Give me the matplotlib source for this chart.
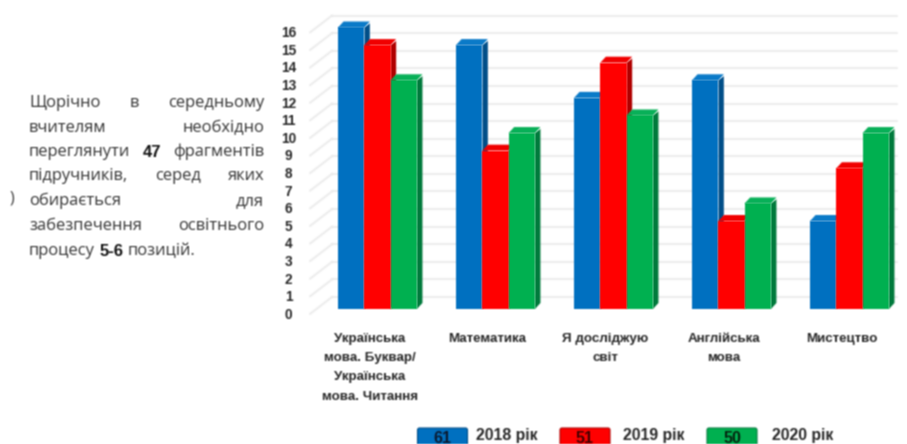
import numpy as np
import matplotlib
matplotlib.use("Agg")
import matplotlib.pyplot as plt
from matplotlib.patches import Polygon, FancyBboxPatch

categories = ["Українська\nмова. Буквар/\nУкраїнська\nмова. Читання", "Математика",
              "Я досліджую\nсвіт", "Англійська\nмова", "Мистецтво"]
years = ["2018 рік", "2019 рік", "2020 рік"]
totals = [61, 51, 50]
v2018 = [16, 15, 12, 13, 5]
v2019 = [15, 9, 14, 5, 8]
v2020 = [13, 10, 11, 6, 10]
series = [v2018, v2019, v2020]
yticks = list(range(0, 17))

front = ["#0070C0", "#FF0000", "#00B050"]
side = ["#004E88", "#B00000", "#007A3C"]
topc = ["#0A7AC8", "#F00000", "#08B058"]
TXT = "#262626"
REG = "Open Sans"
BOLD = "Liberation Sans"

W, H = 907, 444
fig = plt.figure(figsize=(W / 100, H / 100), dpi=100, facecolor="white")


def blur(img, dpi):
    pad = 3
    a = np.pad(img, ((pad, pad), (pad, pad), (0, 0)), mode="constant").astype(float)
    al = a[..., 3:4].copy()
    a[..., :3] *= al
    k = np.array([1, 2, 1], float) / 4
    for axis in (0, 1):
        a = np.apply_along_axis(lambda m: np.convolve(m, k, mode="same"), axis, a)
    al = a[..., 3:4]
    a[..., :3] = np.where(al > 1e-4, a[..., :3] / np.maximum(al, 1e-4), 0)
    return np.clip(a, 0, 1), -pad, -pad


# overlay in pixel coordinates for the surrounding page layout
ov = fig.add_axes([0, 0, 1, 1], zorder=5)
ov.set_xlim(0, W)
ov.set_ylim(H, 0)
ov.axis("off")
ov.patch.set_alpha(0)

# main plot: value 0 at y=309 px, 16 at y=27.5 px; group 0 centre at x=377.5 px, step 118 px
YB, YT = 309.0, 27.5
X0, STEP = 377.5, 118.0
ax = fig.add_axes([0, 0, 1, 1], zorder=2)
ax.set_xlim((0 - X0) / STEP, (W - X0) / STEP)
pu = (YB - YT) / 16
ax.set_ylim(-(H - YB) / pu, YB / pu)
ax.axis("off")
ax.patch.set_alpha(0)

dx = 5.5 / STEP
dy = 6.0 / pu
bw = 26.3 / STEP

# gridlines: back wall + left wall
wall_dx = 22 / STEP
left = (332 - X0) / STEP
right = (897 - X0) / STEP
for t in yticks:
    yback = t + 0.68
    yfront = t - 0.28
    for xs, ys in (([left, right], [yback, yback]), ([left, left - wall_dx], [yback, yfront])):
        ax.plot(xs, ys, color="#EDEDED", lw=1.5, zorder=1, solid_capstyle="round", agg_filter=blur)
    ov.text(288.5, YB - (t - 0.28) * pu + 0.8, str(t), ha="center", va="center", fontsize=9.8,
            fontweight="bold", color=TXT, family=BOLD, agg_filter=blur)

for g in range(len(categories)):
    for s, vals in enumerate(series):
        v = vals[g]
        x0 = g + (s - 1.5) * bw
        x1 = x0 + bw
        z = 3 + g * 3 + s
        ax.add_patch(Polygon([(x1, 0), (x1 + dx, dy), (x1 + dx, v + dy * .7), (x1, v)], fc=side[s], ec="none",
                             zorder=z, agg_filter=blur))
        ax.add_patch(Polygon([(x0, v), (x0 + dx, v + dy), (x1 + dx, v + dy), (x1, v)], fc=topc[s], ec="none",
                             zorder=z, agg_filter=blur))
        ax.bar(x0, v, width=bw, align="edge", color=front[s], zorder=z, agg_filter=blur)
    # category label, 8 px left of the bar group centre
    ov.text(X0 + g * STEP - 8, 332.5, categories[g], ha="center", va="top", fontsize=9.6, fontweight="bold",
            color=TXT, family=BOLD, linespacing=1.82, agg_filter=blur)

# justified paragraph
lines = [
    ([("Щорічно", 0), ("в", 0), ("середньому", 0)], 103, True),
    ([("вчителям", 0), ("необхідно", 0)], 128, True),
    ([("переглянути", 0), ("47", 1), ("фрагментів", 0)], 152, True),
    ([("підручників,", 0), ("серед", 0), ("яких", 0)], 176, True),
    ([("обирається", 0), ("для", 0)], 201, True),
    ([("забезпечення", 0), ("освітнього", 0)], 226, True),
    ([("процесу", 0), ("5-6", 1), ("позицій.", 0)], 251, False),
]
PL, PR = 29, 264
r = fig.canvas.get_renderer()
for words, y, just in lines:
    arts = [ov.text(0, y, w, ha="left", va="center", fontsize=11.9, color="#333333" if not b else "#111111",
                    fontweight="bold" if b else "normal", family=BOLD if b else REG, agg_filter=blur)
            for w, b in words]
    ws = [a.get_window_extent(r).width for a in arts]
    gap = (PR - PL - sum(ws)) / (len(ws) - 1) if just else 4.5
    x = PL
    for a, w in zip(arts, ws):
        a.set_x(x)
        x += w + gap
ov.text(12, 198, ")", ha="center", va="center", fontsize=11.5, color="#3A3A3A", family=REG, agg_filter=blur)

# legend-like row
sw_x = [416.5, 559, 706]
lb_x = [476, 623, 772]
for i in range(3):
    ov.add_patch(FancyBboxPatch((sw_x[i] + 1, 428), 50, 20, boxstyle="round,pad=0,rounding_size=2",
                                fc=front[i], ec=side[i], lw=0.8, agg_filter=blur))
    ov.text(sw_x[i] + 26, 438, str(totals[i]), ha="center", va="center", fontsize=11.5, fontweight="bold",
            color="#0A1A30" if i == 0 else ("#400000" if i == 1 else "#04240F"), family=BOLD, agg_filter=blur)
    ov.text(lb_x[i], 435, years[i], ha="left", va="center", fontsize=11.4, fontweight="bold",
            color=TXT, family=BOLD, agg_filter=blur)

fig.savefig("out.png", dpi=100, facecolor="white")
